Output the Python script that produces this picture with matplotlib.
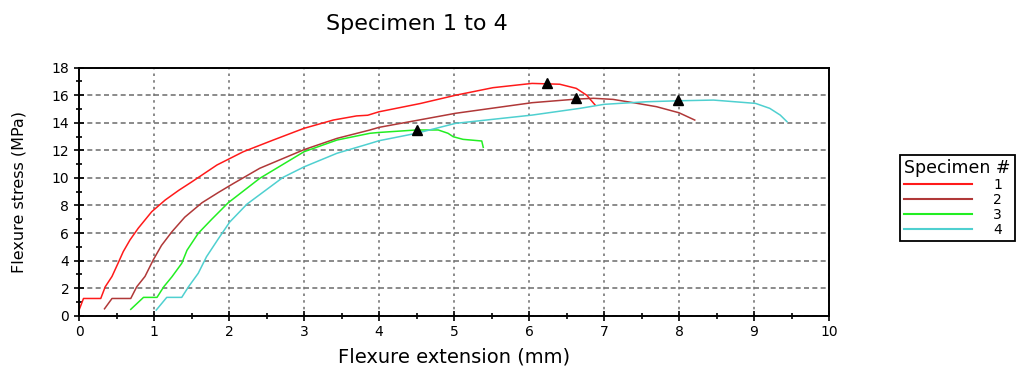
import matplotlib
matplotlib.use("Agg")
import matplotlib.pyplot as plt
from matplotlib.ticker import MultipleLocator

# Flexure test curves: extension (mm) vs stress (MPa)
spec1_x = [0.0, 0.06, 0.29, 0.35, 0.44, 0.52, 0.59, 0.68, 0.79, 0.97, 1.15, 1.33, 1.5,
           1.84, 2.19, 2.59, 3.0, 3.39, 3.7, 3.85, 4.0, 4.55, 5.02, 5.52, 6.04, 6.41,
           6.63, 6.77, 6.88]
spec1_y = [0.4, 1.25, 1.25, 2.1, 2.85, 3.8, 4.65, 5.5, 6.35, 7.55, 8.4, 9.1, 9.7,
           10.94, 11.9, 12.75, 13.6, 14.2, 14.5, 14.55, 14.8, 15.4, 16.0, 16.55, 16.86, 16.8,
           16.5, 16.0, 15.3]

spec2_x = [0.34, 0.44, 0.69, 0.77, 0.88, 0.99, 1.1, 1.24, 1.41, 1.64, 1.86, 2.06, 2.41,
           3.0, 3.44, 3.88, 4.0, 5.02, 6.04, 6.63, 6.86, 7.12, 7.39, 7.7, 8.0, 8.21]
spec2_y = [0.5, 1.25, 1.25, 2.1, 2.85, 4.05, 5.1, 6.1, 7.15, 8.2, 8.95, 9.6, 10.7,
           12.05, 12.87, 13.48, 13.67, 14.69, 15.46, 15.72, 15.78, 15.7, 15.46, 15.17, 14.73, 14.2]

spec3_x = [0.69, 0.86, 1.04, 1.13, 1.24, 1.37, 1.44, 1.59, 1.77, 1.99, 2.41, 3.0, 3.44,
           3.88, 4.0, 4.5, 4.79, 4.92, 4.99, 5.12, 5.37, 5.39]
spec3_y = [0.46, 1.33, 1.33, 2.1, 2.83, 3.8, 4.75, 5.98, 7.0, 8.2, 9.97, 11.9, 12.75,
           13.24, 13.3, 13.48, 13.48, 13.24, 12.99, 12.8, 12.68, 12.22]

spec4_x = [1.03, 1.17, 1.37, 1.46, 1.59, 1.70, 1.86, 2.01, 2.24, 2.72, 3.0, 3.44, 3.88,
           4.0, 4.5, 5.02, 6.04, 6.68, 7.0, 7.57, 8.0, 8.46, 9.02, 9.21, 9.35, 9.44]
spec4_y = [0.41, 1.33, 1.33, 2.1, 3.08, 4.28, 5.6, 6.8, 8.1, 10.04, 10.8, 11.79, 12.5,
           12.7, 13.24, 13.96, 14.56, 15.05, 15.34, 15.53, 15.6, 15.65, 15.41, 15.05, 14.56, 14.08]

# Peak load markers
peak_x = [6.24, 6.63, 4.50, 7.99]
peak_y = [16.9, 15.78, 13.48, 15.63]

labels = ["1", "2", "3", "4"]
colors = ["#ff1a1a", "#b03838", "#22ee22", "#4fd0d0"]

fig = plt.figure(figsize=(10.22, 3.67), dpi=100)
ax = fig.add_axes([79 / 1022, (367 - 315.7) / 367, 750 / 1022, 248 / 367])

series = [(spec1_x, spec1_y), (spec2_x, spec2_y), (spec3_x, spec3_y), (spec4_x, spec4_y)]
for (xs, ys), c, lab in zip(series, colors, labels):
    ax.plot(xs, ys, color=c, lw=1.1, label=lab)

ax.plot(peak_x, peak_y, linestyle="none", marker="^", color="black", markersize=7.5, zorder=5)

ax.set_xlim(0, 10)
ax.set_ylim(0, 18)
ax.xaxis.set_major_locator(MultipleLocator(1))
ax.xaxis.set_minor_locator(MultipleLocator(0.5))
ax.yaxis.set_major_locator(MultipleLocator(2))
ax.yaxis.set_minor_locator(MultipleLocator(1))
ax.tick_params(which="major", direction="inout", length=7, width=1.2, labelsize=10, colors="black")
ax.tick_params(which="minor", direction="inout", length=5, width=1.2)

ax.xaxis.grid(True, which="major", linestyle=(0, (1.5, 2.5)), color="#777777", lw=1.2)
ax.yaxis.grid(True, which="major", linestyle=(0, (3, 2)), color="#777777", lw=1.2)

for s in ax.spines.values():
    s.set_linewidth(1.4)
    s.set_color("black")

ax.set_xlabel("Flexure extension (mm)", fontsize=14, labelpad=6)
ax.set_ylabel("Flexure stress (MPa)", fontsize=11.5, labelpad=18)
fig.text(0.408, 0.935, "Specimen 1 to 4", ha="center", va="center", fontsize=16)

leg = fig.legend(loc="upper left", bbox_to_anchor=(900 / 1022, 1 - 155 / 367),
                 title="Specimen #", fontsize=10, title_fontsize=12.5,
                 handlelength=4.9, handletextpad=1.5, labelspacing=0.07,
                 borderpad=0.3, fancybox=False, framealpha=1, edgecolor="black",
                 borderaxespad=0)
leg._legend_box.align = "left"
leg.get_frame().set_linewidth(1.3)
for line in leg.get_lines():
    line.set_linewidth(1.5)

fig.savefig("out.png", dpi=100)
